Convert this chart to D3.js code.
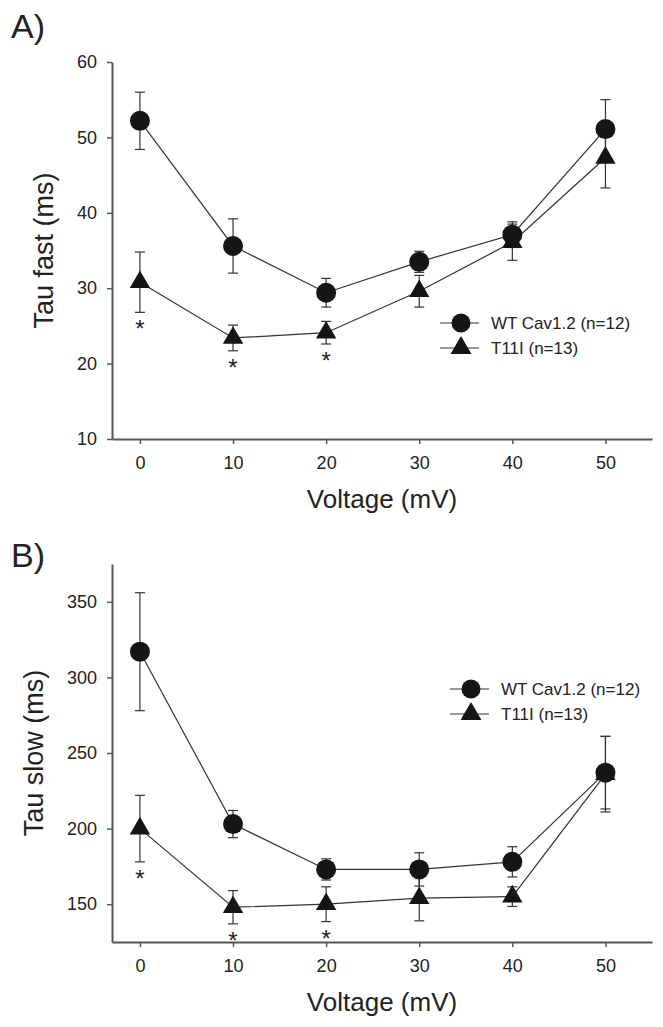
<!DOCTYPE html>
<html>
  <head>
    <meta charset="utf-8">
    <title>Tau fast / Tau slow</title>
    <style>
      body { margin: 0; background: #fff; }
      svg, svg text { font-family: "Liberation Sans", Arial, sans-serif; }
      .axis path, .axis line { stroke: #555; }
      .axis path { stroke-width: 2; }
      .axis line { stroke-width: 1.5; }
      .axis text { font-size: 18px; fill: #222; font-family: "Liberation Sans", Arial, sans-serif; }
    </style>
  </head>
  <body>
    <script src="https://d3js.org/d3.v7.min.js"></script>
    <script>
      // values
      const voltages = [0, 10, 20, 30, 40, 50]
      const voltageTicks = [0, 10, 20, 30, 40, 50]

      const fastWT = [52.2, 35.6, 29.4, 33.5, 37.1, 51.1]
      const fastWTErr = [3.8, 3.6, 1.9, 1.4, 1.7, 3.9]
      const fastT11I = [30.8, 23.4, 24.1, 29.6, 36.1, 47.3]
      const fastT11IErr = [4.0, 1.7, 1.5, 2.1, 2.4, 4.0]
      const fastTicks = [10, 20, 30, 40, 50, 60]

      const slowWT = [317, 203, 173, 173, 178, 237]
      const slowWTErr = [39, 9, 7, 11, 10, 24]
      const slowT11I = [200, 148, 150, 154, 155, 236]
      const slowT11IErr = [22, 11, 11.5, 15, 6.5, 25]
      const slowTicks = [150, 200, 250, 300, 350]

      const sigVoltages = [0, 10, 20]
      const seriesNames = ["WT Cav1.2 (n=12)", "T11I (n=13)"]

      const W = 663, H = 1027
      const svg = d3.select("body").append("svg")
        .attr("width", W)
        .attr("height", H)

      const ink = "#151515"
      const lineInk = "#333"

      function drawPanel(p) {
        const x = d3.scaleLinear().domain([-3, 55]).range([112, 652])
        const y = d3.scaleLinear().domain(p.yDomain).range([p.bottom, p.top])
        const g = svg.append("g")

        // axes
        g.append("g")
          .attr("class", "axis")
          .attr("transform", "translate(0," + p.bottom + ")")
          .call(d3.axisBottom(x).tickValues(voltageTicks).tickSize(5).tickPadding(12).tickSizeOuter(0))
        g.append("g")
          .attr("class", "axis")
          .attr("transform", "translate(112,0)")
          .call(d3.axisLeft(y).tickValues(p.ticks).tickSize(5).tickPadding(10).tickSizeOuter(0))

        g.append("text")
          .attr("x", 382).attr("y", p.bottom + 69)
          .attr("text-anchor", "middle")
          .style("font-size", "26px").style("fill", "#222")
          .text("Voltage (mV)")
        g.append("text")
          .attr("transform", "translate(" + p.yLabelX + "," + ((p.top + p.bottom) / 2) + ") rotate(-90)")
          .attr("text-anchor", "middle")
          .style("font-size", "27px").style("fill", "#222")
          .text(p.yLabel)
        g.append("text")
          .attr("x", 11).attr("y", p.tagY)
          .style("font-size", "34px").style("fill", "#222")
          .text(p.tag)

        const series = [
          { vals: p.t11i, errs: p.t11iErr, shape: "tri" },
          { vals: p.wt, errs: p.wtErr, shape: "circle" }
        ]
        const line = d3.line().x((d, i) => x(voltages[i])).y(d => y(d))

        series.forEach(s => {
          g.append("path")
            .datum(s.vals)
            .attr("d", line)
            .attr("fill", "none")
            .attr("stroke", lineInk)
            .attr("stroke-width", 1.2)
        })

        series.forEach(s => {
          const eb = g.append("g").attr("stroke", "#333").attr("stroke-width", 1.2)
          s.vals.forEach((v, i) => {
            const cx = x(voltages[i])
            const y1 = y(v + s.errs[i]), y2 = y(v - s.errs[i])
            eb.append("line").attr("x1", cx).attr("x2", cx).attr("y1", y1).attr("y2", y2)
            eb.append("line").attr("x1", cx - 5).attr("x2", cx + 5).attr("y1", y1).attr("y2", y1)
            eb.append("line").attr("x1", cx - 5).attr("x2", cx + 5).attr("y1", y2).attr("y2", y2)
          })
        })

        series.forEach(s => {
          if (s.shape === "circle") {
            g.selectAll(null).data(s.vals).enter().append("circle")
              .attr("cx", (d, i) => x(voltages[i]))
              .attr("cy", d => y(d))
              .attr("r", 10)
              .attr("fill", ink)
          } else {
            g.selectAll(null).data(s.vals).enter().append("path")
              .attr("d", d3.symbol(d3.symbolTriangle, 180))
              .attr("transform", (d, i) => "translate(" + x(voltages[i]) + "," + y(d) + ")")
              .attr("fill", ink)
          }
        })

        // significance marks under T11I
        sigVoltages.forEach(v => {
          const i = voltages.indexOf(v)
          const yc = y(p.t11i[i] - p.t11iErr[i]) + 12
          g.append("text")
            .attr("x", x(v)).attr("y", yc + 13)
            .attr("text-anchor", "middle")
            .style("font-size", "24px").style("fill", "#222")
            .text("*")
        })

        // legend
        const lg = g.append("g").attr("transform", "translate(" + p.legX + "," + p.legY + ")")
        seriesNames.forEach((name, k) => {
          const row = lg.append("g").attr("transform", "translate(0," + (k * 25) + ")")
          row.append("line").attr("x1", -21).attr("x2", 18).attr("y1", 0).attr("y2", 0)
            .attr("stroke", lineInk).attr("stroke-width", 1.2)
          if (k === 0) {
            row.append("circle").attr("r", 9.5).attr("fill", ink)
          } else {
            row.append("path").attr("d", d3.symbol(d3.symbolTriangle, 190)).attr("fill", ink)
          }
          row.append("text").attr("x", 30).attr("y", 0).attr("dy", "0.36em")
            .style("font-size", "17px").style("fill", "#222")
            .text(name)
        })
      }

      drawPanel({
        tag: "A)", tagY: 38,
        top: 62, bottom: 439, yDomain: [10, 60], ticks: fastTicks,
        yLabel: "Tau fast (ms)", yLabelX: 53,
        wt: fastWT, wtErr: fastWTErr, t11i: fastT11I, t11iErr: fastT11IErr,
        legX: 461, legY: 323
      })

      drawPanel({
        tag: "B)", tagY: 567,
        top: 564, bottom: 942, yDomain: [125, 375], ticks: slowTicks,
        yLabel: "Tau slow (ms)", yLabelX: 43,
        wt: slowWT, wtErr: slowWTErr, t11i: slowT11I, t11iErr: slowT11IErr,
        legX: 471, legY: 689
      })
    </script>
  </body>
</html>
